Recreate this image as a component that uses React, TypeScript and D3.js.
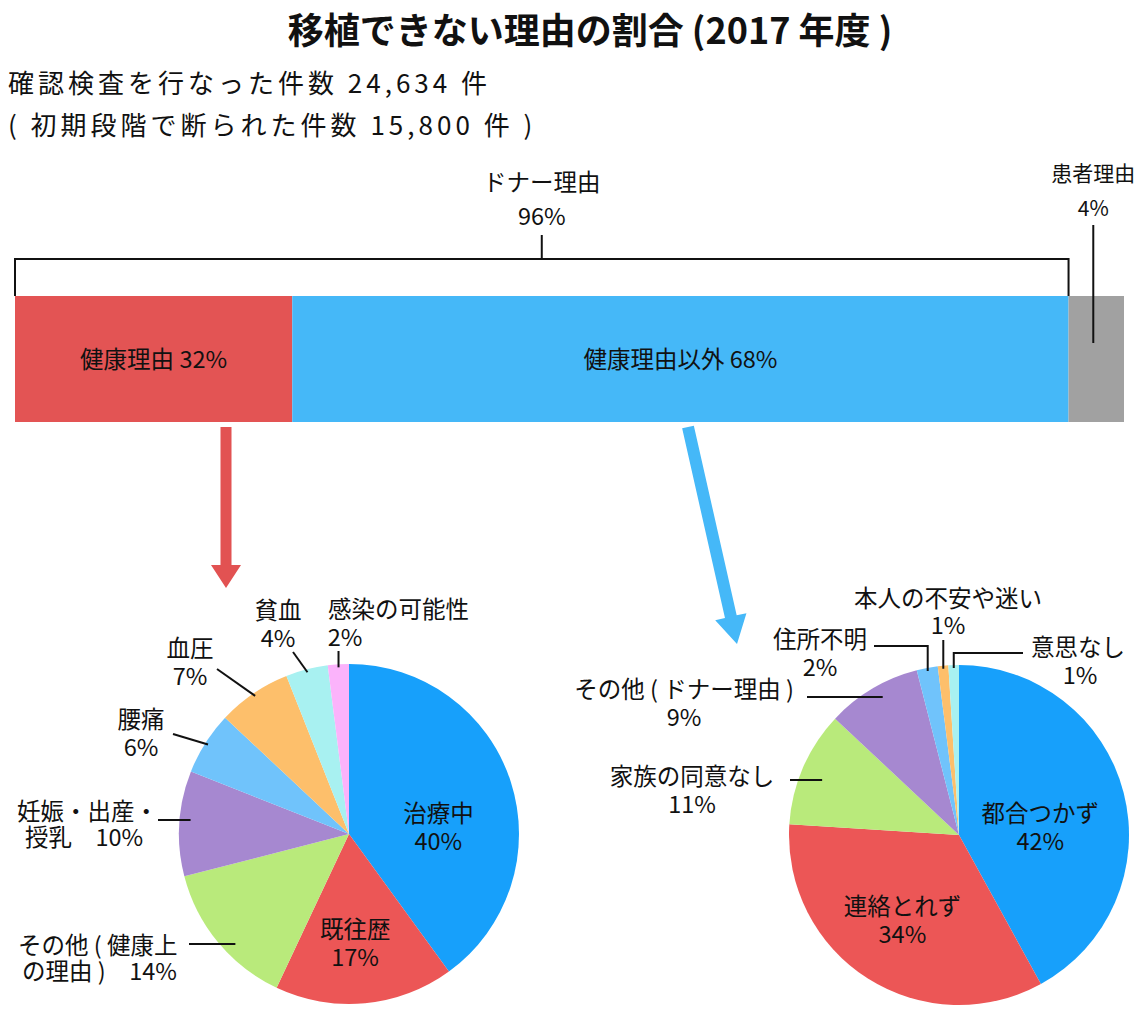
import React from "react";
import * as d3 from "d3";

const W = 1140;
const H = 1016;
const FONT = "'Noto Sans CJK JP', 'Noto Sans', sans-serif";
const FS = 23.5;

const titleText = "移植できない理由の割合 (2017 年度 )";
const subtitleLines = ["確認検査を行なった件数 24,634 件", "( 初期段階で断られた件数 15,800 件 )"];

// 上段の帯グラフ
const groupNames = ["ドナー理由", "患者理由"];
const groupPct = [96, 4];
const barNames = ["健康理由", "健康理由以外", "患者理由"];
const barPct = [32, 68, 4];
// 元の図では帯の幅が数値と比例していないので、見た目の比率を読み取ったもの
const barDrawnShare = [25, 70, 5];
const barColors = ["#e35454", "#45b8f8", "#a1a1a1"];

// 健康理由の内訳
const healthNames = ["治療中", "既往歴", "その他 ( 健康上の理由 )", "妊娠・出産・授乳", "腰痛", "血圧", "貧血", "感染の可能性"];
const healthValues = [40, 17, 14, 10, 6, 7, 4, 2];

// 健康理由以外の内訳
const otherNames = ["都合つかず", "連絡とれず", "家族の同意なし", "その他 ( ドナー理由 )", "住所不明", "本人の不安や迷い", "意思なし"];
const otherValues = [42, 34, 11, 9, 2, 1, 1];

const sliceColors = ["#17a0fb", "#ec5656", "#b9ea7b", "#a688d0", "#70c3fb", "#fdbf6b", "#a8f1f1", "#fbb3fb"];

const R = 170;
const LINE_H = 28;

// label layout (annotation positions)
const healthCallouts: any = {
  0: { inside: true, rr: 94 / R, dx: 0, dy: 21 },
  1: { inside: true, rr: 108 / R, dx: -4, dy: 0 },
  2: { lines: ["その他 ( 健康上", "の理由 )　14%"], x: 18, x2: 22, y: 944, lh: 26, anchor: "start", leader: { type: "h", x: 189, y: 944, inset: 16 } },
  3: { lines: ["妊娠・出産・", "授乳　10%"], x: 17, x2: 25, y: 810, lh: 26, anchor: "start", leader: { type: "h", x: 158, y: 820, inset: 11 } },
  4: { x: 141, y: 718, leader: { type: "r", x: 173, y: 734 } },
  5: { x: 190, y: 647, leader: { type: "r", x: 217, y: 669 } },
  6: { x: 278, y: 609, leader: { type: "r", x: 293, y: 652 } },
  7: { x: 328, x2: 345, y: 608, anchor: "start", leader: { type: "v", y: 651 } },
};

const otherCallouts: any = {
  0: { inside: true, rr: 84 / R, dx: 0, dy: 12 },
  1: { inside: true, rr: 100 / R, dx: -3, dy: 0 },
  2: { x: 692, y: 775, leader: { type: "h", x: 790, y: 780, inset: 24 } },
  3: { x: 684, y: 688, leader: { type: "h", x: 807, y: 697, inset: 23 } },
  4: { x: 820, y: 638, leader: { type: "e", x: 874, y: 646 } },
  5: { x: 948, y: 597, lh: 27, leader: { type: "v", y: 640 } },
  6: { x: 1078, x2: 1080, y: 646, leader: { type: "e", x: 1023, y: 653 } },
};

function polar(cx: number, cy: number, r: number, a: number) {
  return [cx + r * Math.sin(a), cy - r * Math.cos(a)];
}

function arrowPoints(x0: number, y0: number, x1: number, y1: number, sw: number, hl: number, hw: number) {
  const len = Math.hypot(x1 - x0, y1 - y0);
  const ux = (x1 - x0) / len, uy = (y1 - y0) / len;
  const px = -uy, py = ux;
  const bx = x1 - ux * hl, by = y1 - uy * hl;
  const pts = [
    [x0 + px * sw / 2, y0 + py * sw / 2],
    [bx + px * sw / 2, by + py * sw / 2],
    [bx + px * hw / 2, by + py * hw / 2],
    [x1, y1],
    [bx - px * hw / 2, by - py * hw / 2],
    [bx - px * sw / 2, by - py * sw / 2],
    [x0 - px * sw / 2, y0 - py * sw / 2],
  ];
  return pts.map((p) => p.join(",")).join(" ");
}

function Pie({ names, values, cx, cy, callouts }: any) {
  const arcs = d3.pie<number>().sort(null).value((d) => d)(values);
  const arcGen = d3.arc<any>().innerRadius(0).outerRadius(R);

  return (
    <g>
      {arcs.map((a, i) => (
        <path key={"s" + i} d={arcGen(a) || ""} transform={`translate(${cx},${cy})`} fill={sliceColors[i]} />
      ))}
      {arcs.map((a, i) => {
        const c = callouts[i];
        const mid = (a.startAngle + a.endAngle) / 2;
        const lines = c.lines || [names[i], `${values[i]}%`];
        const lh = c.lh || LINE_H;
        if (c.inside) {
          const [x, y] = polar(cx, cy, R * c.rr, mid);
          return (
            <text key={"t" + i} y={y + c.dy - lh / 2} textAnchor="middle" dominantBaseline="central" fontSize={FS}>
              <tspan x={x + c.dx}>{lines[0]}</tspan>
              <tspan x={x + c.dx} dy={lh}>{lines[1]}</tspan>
            </text>
          );
        }
        const L = c.leader;
        const [ix, iy] = polar(cx, cy, R - 3, mid);
        let pts: number[][] = [];
        if (L.type === "r") pts = [[L.x, L.y], [ix, iy]];
        if (L.type === "v") pts = [[ix, L.y], [ix, iy]];
        if (L.type === "e") pts = [[L.x, L.y], [ix, L.y], [ix, iy]];
        if (L.type === "h") {
          const edge = cx - Math.sqrt(R * R - (L.y - cy) * (L.y - cy));
          pts = [[L.x, L.y], [edge + L.inset, L.y]];
        }
        const anchor = c.anchor || "middle";
        const x2 = c.x2 !== undefined ? c.x2 : c.x;
        const anchor2 = c.x2 !== undefined && anchor === "start" && c.x2 - c.x > 10 ? "middle" : anchor;
        return (
          <g key={"t" + i}>
            <polyline points={pts.map((p) => p.join(",")).join(" ")} fill="none" stroke="#111" strokeWidth={2} />
            <text y={c.y} textAnchor={anchor} dominantBaseline="central" fontSize={FS}>
              <tspan x={c.x}>{lines[0]}</tspan>
              <tspan x={x2} dy={lh} textAnchor={anchor2}>
                {lines[1]}
              </tspan>
            </text>
          </g>
        );
      })}
    </g>
  );
}

export default function App() {
  const x = d3.scaleLinear().domain([0, d3.sum(barDrawnShare)]).range([15, 1124]);
  const starts = d3.cumsum([0, ...barDrawnShare]);
  const barTop = 296;
  const barBottom = 422;
  const donorEnd = x(starts[2]);
  const bracketY = 259;
  const bracketMid = (x(0) + donorEnd) / 2;
  const patientMid = (x(starts[2]) + x(starts[3])) / 2 - 3;

  return (
    <svg width={W} height={H} style={{ position: "absolute", left: 0, top: 0, background: "#fff" }} fontFamily={FONT} fill="#111">
      <text x={590} y={28} textAnchor="middle" dominantBaseline="central" fontSize={36} fontWeight="bold">
        {titleText}
      </text>
      {subtitleLines.map((s, i) => (
        <text key={s} x={8} y={81 + i * 42} dominantBaseline="central" fontSize={26} letterSpacing={4}>
          {s}
        </text>
      ))}

      {/* bracket for donor reasons */}
      <polyline
        points={`${x(0)},${barTop} ${x(0)},${bracketY} ${donorEnd},${bracketY} ${donorEnd},${barTop}`}
        fill="none"
        stroke="#111"
        strokeWidth={2}
      />
      <line x1={bracketMid} x2={bracketMid} y1={235} y2={bracketY} stroke="#111" strokeWidth={2} />
      <text x={bracketMid} y={181} textAnchor="middle" dominantBaseline="central" fontSize={FS}>
        {groupNames[0]}
      </text>
      <text x={bracketMid} y={215} textAnchor="middle" dominantBaseline="central" fontSize={FS}>
        {groupPct[0]}%
      </text>

      {/* stacked bar */}
      {barDrawnShare.map((v, i) => (
        <rect key={i} x={x(starts[i])} y={barTop} width={x(starts[i + 1]) - x(starts[i])} height={barBottom - barTop} fill={barColors[i]} />
      ))}
      {[0, 1].map((i) => (
        <text key={"bl" + i} x={(x(starts[i]) + x(starts[i + 1])) / 2} y={358} textAnchor="middle" dominantBaseline="central" fontSize={FS}>
          {barNames[i]} {barPct[i]}%
        </text>
      ))}
      <line x1={patientMid} x2={patientMid} y1={225} y2={343} stroke="#111" strokeWidth={2} />
      <text x={patientMid} y={172} textAnchor="middle" dominantBaseline="central" fontSize={21}>
        {groupNames[1]}
      </text>
      <text x={patientMid} y={207} textAnchor="middle" dominantBaseline="central" fontSize={21}>
        {groupPct[1]}%
      </text>

      {/* arrows */}
      <polygon points={arrowPoints(226, 427, 226, 588, 11, 23, 30)} fill="#e25252" />
      <polygon points={arrowPoints(688, 427, 737, 644, 12, 28, 32)} fill="#45b8f8" />

      <Pie names={healthNames} values={healthValues} cx={349} cy={834} callouts={healthCallouts} />
      <Pie names={otherNames} values={otherValues} cx={959} cy={835} callouts={otherCallouts} />
    </svg>
  );
}
